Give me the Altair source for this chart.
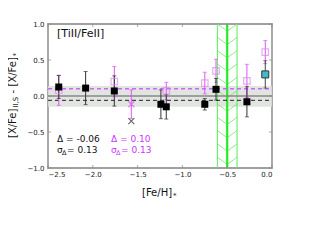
import altair as alt
import pandas as pd

FONT = "DejaVu Sans"

x_ticks = [-2.5, -2.0, -1.5, -1.0, -0.5, 0.0]
y_ticks = [-1.0, -0.5, 0.0, 0.5, 1.0]

# black filled squares (with error bars)
black_feh = [-2.38, -2.08, -1.76, -1.24, -1.18, -0.75, -0.625, -0.28]
black_val = [0.125, 0.11, 0.07, -0.115, -0.15, -0.115, 0.093, -0.08]
black_err = [0.16, 0.23, 0.21, 0.20, 0.17, 0.08, 0.15, 0.21]

# black cross
bx_feh = [-1.57]
bx_val = [-0.35]

# magenta open squares
mag_feh = [-2.38, -1.76, -1.18, -0.75, -0.625, -0.28, -0.075]
mag_val = [0.08, 0.20, 0.07, 0.18, 0.35, 0.21, 0.61]
mag_err = [0.21, 0.21, 0.12, 0.15, 0.16, 0.23, 0.16]

# magenta cross
mx_feh = [-1.57]
mx_val = [-0.115]
mx_err = [0.20]

# cyan square
cy_feh = [-0.075]
cy_val = [0.30]
cy_err = [0.19]

# reference lines
zero_line = [0.0]
black_mean = [-0.06]
mag_mean = [0.10]
band_lo = [-0.15]
band_hi = [0.14]

# green vertical band
green_center = [-0.5]
green_lo = [-0.61]
green_hi = [-0.39]
hatch_y = [0.90, 0.715, 0.53, 0.345, 0.16, -0.025, -0.21, -0.395, -0.58, -0.765, -0.95]
hatch_h = 0.10

W, H = 224, 144
XS = alt.Scale(domain=[-2.5, 0.0], nice=False, zero=False)
YS = alt.Scale(domain=[-1.0, 1.0], nice=False, zero=False)

x_axis = alt.Axis(values=x_ticks, format=".1f", title=None, ticks=False, domain=False,
                  grid=False, labelFontSize=7, labelPadding=2, labelColor="#222",
                  labelFont=FONT)
y_axis = alt.Axis(values=y_ticks, format=".1f", title=None, ticks=False, domain=False,
                  grid=False, labelFontSize=7, labelPadding=4, labelColor="#222",
                  labelFont=FONT)


def xe(f):
    return alt.X(f"{f}:Q", scale=XS, axis=x_axis)


def ye(f):
    return alt.Y(f"{f}:Q", scale=YS, axis=y_axis)


MAG_ERR = "#dd55f5"
MAG_SQ = "#dd88f0"
MAG_TEXT = "#cc33ff"

band = alt.Chart(pd.DataFrame({"lo": band_lo, "hi": band_hi})).mark_rect(
    color="#dcdfdc", opacity=0.85
).encode(x=alt.value(0), x2=alt.value(W), y=ye("hi"), y2=alt.Y2("lo:Q"))

# green hatched band
g_edges = alt.Chart(pd.DataFrame({"feh": green_lo + green_hi})).mark_rule(
    color="#55ee55", strokeWidth=1
).encode(x=xe("feh"), y=alt.value(0), y2=alt.value(H))

rows = []
for yv in hatch_y:
    rows.append({"x1": green_lo[0], "y1": yv + hatch_h, "x2": green_center[0], "y2": yv})
    rows.append({"x1": green_center[0], "y1": yv, "x2": green_hi[0], "y2": yv + hatch_h})
hatch = alt.Chart(pd.DataFrame(rows)).mark_rule(color="#66ee66", strokeWidth=0.8).encode(
    x=xe("x1"), y=ye("y1"), x2=alt.X2("x2:Q"), y2=alt.Y2("y2:Q")
)
g_center = alt.Chart(pd.DataFrame({"feh": green_center})).mark_rule(
    color="#22ee22", strokeWidth=2.2
).encode(x=xe("feh"), y=alt.value(0), y2=alt.value(H))

zero = alt.Chart(pd.DataFrame({"val": zero_line})).mark_rule(
    color="#888888", strokeWidth=1.5
).encode(y=ye("val"), x=alt.value(0), x2=alt.value(W))
bmean = alt.Chart(pd.DataFrame({"val": black_mean})).mark_rule(
    color="#222222", strokeWidth=1, strokeDash=[4, 3]
).encode(y=ye("val"), x=alt.value(0), x2=alt.value(W))
mmean = alt.Chart(pd.DataFrame({"val": mag_mean})).mark_rule(
    color="#cc66ff", strokeWidth=1.5, strokeDash=[4, 3]
).encode(y=ye("val"), x=alt.value(0), x2=alt.value(W))


def errbars(feh, val, err, color, width=1.0):
    df = pd.DataFrame({"feh": feh, "val": val, "err": err})
    df["lo"] = df["val"] - df["err"]
    df["hi"] = df["val"] + df["err"]
    base = alt.Chart(df)
    rule = base.mark_rule(color=color, strokeWidth=width).encode(
        x=xe("feh"), y=ye("lo"), y2=alt.Y2("hi:Q"))
    cap_lo = base.mark_tick(color=color, orient="horizontal", size=4, thickness=1).encode(
        x=xe("feh"), y=ye("lo"))
    cap_hi = base.mark_tick(color=color, orient="horizontal", size=4, thickness=1).encode(
        x=xe("feh"), y=ye("hi"))
    return [rule, cap_lo, cap_hi]


layers = [band, g_edges, hatch, g_center, zero, bmean, mmean]
layers += errbars(mag_feh, mag_val, mag_err, MAG_ERR)
layers += errbars(mx_feh, mx_val, mx_err, MAG_ERR)
layers += errbars(black_feh, black_val, black_err, "#333333")
layers += errbars(cy_feh, cy_val, cy_err, "#444444")

CROSS = "M-1,-1L1,1M-1,1L1,-1"
layers.append(alt.Chart(pd.DataFrame({"feh": bx_feh, "val": bx_val})).mark_point(
    shape=CROSS, size=36, color="#222222", strokeWidth=1.1).encode(x=xe("feh"), y=ye("val")))
layers.append(alt.Chart(pd.DataFrame({"feh": mx_feh, "val": mx_val})).mark_point(
    shape=CROSS, size=36, color=MAG_ERR, strokeWidth=1.2).encode(x=xe("feh"), y=ye("val")))
layers.append(alt.Chart(pd.DataFrame({"feh": mag_feh, "val": mag_val})).mark_square(
    size=42, filled=False, color=MAG_SQ, strokeWidth=1.2).encode(x=xe("feh"), y=ye("val")))
layers.append(alt.Chart(pd.DataFrame({"feh": black_feh, "val": black_val})).mark_square(
    size=49, filled=True, color="#000000", opacity=1).encode(x=xe("feh"), y=ye("val")))
layers.append(alt.Chart(pd.DataFrame({"feh": cy_feh, "val": cy_val})).mark_square(
    size=49, filled=True, fill="#44bbcc", stroke="#333333", strokeWidth=1, opacity=1
).encode(x=xe("feh"), y=ye("val")))

# inward ticks on all four sides
TK = "#888888"
layers.append(alt.Chart(pd.DataFrame({"feh": x_ticks})).mark_tick(
    color=TK, orient="vertical", size=3, thickness=1).encode(x=xe("feh"), y=alt.value(H - 1.5)))
layers.append(alt.Chart(pd.DataFrame({"feh": x_ticks})).mark_tick(
    color=TK, orient="vertical", size=3, thickness=1).encode(x=xe("feh"), y=alt.value(1.5)))
layers.append(alt.Chart(pd.DataFrame({"val": y_ticks})).mark_tick(
    color=TK, orient="horizontal", size=3, thickness=1).encode(y=ye("val"), x=alt.value(1.5)))
layers.append(alt.Chart(pd.DataFrame({"val": y_ticks})).mark_tick(
    color=TK, orient="horizontal", size=3, thickness=1).encode(y=ye("val"), x=alt.value(W - 1.5)))


def txt(s, x, y, size, color="#111111", angle=0, baseline="middle", align="left"):
    kw = dict(font=FONT, fontSize=size, color=color, align=align, baseline=baseline)
    if angle:
        kw["angle"] = angle
    return alt.Chart(pd.DataFrame({"t": [s]})).mark_text(**kw).encode(
        text="t:N", x=alt.value(x), y=alt.value(y))


label_text = ["[TiII/FeII]"]
stat_black = ["Δ = -0.06", "0.13"]
stat_mag = ["Δ = 0.10", "0.13"]

layers.append(txt(label_text[0], 9, 10, 11))
layers.append(txt(stat_black[0], 9, 115, 9))
layers.append(txt("σ", 9, 126, 9))
layers.append(txt("Δ", 14, 128.5, 6.5))
layers.append(txt("= " + stat_black[1], 19, 126, 9))
layers.append(txt(stat_mag[0], 63, 115, 9, MAG_TEXT))
layers.append(txt("σ", 63, 126, 9, MAG_TEXT))
layers.append(txt("Δ", 68, 128.5, 6.5, MAG_TEXT))
layers.append(txt("= " + stat_mag[1], 73, 126, 9, MAG_TEXT))

# x axis title [Fe/H]*
layers.append(txt("[Fe/H]", 94, 171.5, 10, baseline="alphabetic"))
layers.append(txt("*", 125, 173.5, 7, baseline="alphabetic"))

# y axis title [X/Fe]_{II,S} - [X/Fe]_*  (rotated)
YX = -35
layers.append(txt("[X/Fe]", YX, 114, 10, angle=270))
layers.append(txt("II,S", YX + 3, 83.5, 7, angle=270))
layers.append(txt("-", YX, 69.5, 10, angle=270))
layers.append(txt("[X/Fe]", YX, 62.5, 10, angle=270))
layers.append(txt("*", YX + 3, 32.5, 7, angle=270))

chart = alt.layer(*layers).properties(
    width=W, height=H,
    padding={"left": 40, "top": 16, "right": 40, "bottom": 64},
    autosize=alt.AutoSizeParams(type="none"),
    background="white",
).configure_view(stroke="#a0a0a0", strokeWidth=1.8)

chart.save("out.html", embed_options={"renderer": "svg", "actions": False})
